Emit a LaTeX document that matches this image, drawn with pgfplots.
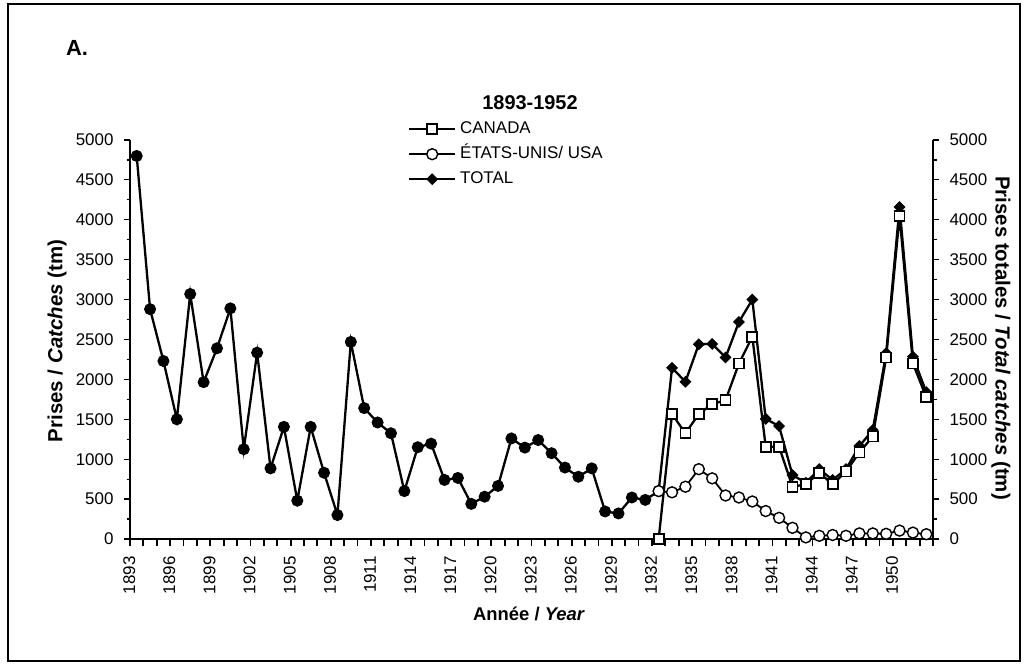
\documentclass[border=0pt]{standalone}
\usepackage{pgfplots}
\pgfplotsset{compat=1.18}
\usepackage{pgfplotstable}
\usepackage{fontspec}
\setmainfont{Liberation Sans}

\pgfplotstableread{
year total
1893 4800
1894 2880
1895 2230
1896 1500
1897 3070
1898 1965
1899 2390
1900 2890
1901 1125
1902 2335
1903 885
1904 1405
1905 480
1906 1405
1907 830
1908 300
1909 2470
1910 1640
1911 1460
1912 1325
1913 600
1914 1150
1915 1195
1916 740
1917 765
1918 440
1919 530
1920 665
1921 1260
1922 1145
1923 1240
1924 1075
1925 895
1926 780
1927 885
1928 345
1929 320
1930 520
1931 490
1932 600
}\totalearly

\pgfplotstableread{
year total canada usa
1932 600 0 600
1933 2145 1565 585
1934 1970 1325 655
1935 2440 1565 875
1936 2445 1690 760
1937 2275 1740 545
1938 2720 2200 520
1939 3000 2535 470
1940 1505 1155 350
1941 1415 1155 265
1942 800 655 140
1943 705 685 20
1944 875 830 40
1945 740 685 50
1946 875 845 40
1947 1165 1085 70
1948 1365 1285 70
1949 2330 2275 65
1950 4160 4050 105
1951 2285 2200 80
1952 1840 1775 60
}\latedata

\pgfplotstableread{
x y
1892.5 -44
1893.5 -44
1894.5 -44
1895.5 -44
1896.5 -44
1897.5 -44
1898.5 -44
1899.5 -44
1900.5 -44
1901.5 -44
1902.5 -44
1903.5 -44
1904.5 -44
1905.5 -44
1906.5 -44
1907.5 -44
1908.5 -44
1909.5 -44
1910.5 -44
1911.5 -44
1912.5 -44
1913.5 -44
1914.5 -44
1915.5 -44
1916.5 -44
1917.5 -44
1918.5 -44
1919.5 -44
1920.5 -44
1921.5 -44
1922.5 -44
1923.5 -44
1924.5 -44
1925.5 -44
1926.5 -44
1927.5 -44
1928.5 -44
1929.5 -44
1930.5 -44
1931.5 -44
1932.5 -44
1933.5 -44
1934.5 -44
1935.5 -44
1936.5 -44
1937.5 -44
1938.5 -44
1939.5 -44
1940.5 -44
1941.5 -44
1942.5 -44
1943.5 -44
1944.5 -44
1945.5 -44
1946.5 -44
1947.5 -44
1948.5 -44
1949.5 -44
1950.5 -44
1951.5 -44
1952.5 -44
}\boundaryticks

\begin{document}
\begin{tikzpicture}[x=1bp,y=1bp]
\useasboundingbox (0,0) rectangle (1026,665);
\draw[line width=1.8bp] (8,4) rectangle (1020,661);
\node[font=\fontsize{22}{24}\selectfont\bfseries] at (77,617) {A.};
\node[font=\fontsize{20}{22}\selectfont\bfseries] at (530,562) {1893-1952};
\node[font=\fontsize{18.5}{20}\selectfont\bfseries] at (529,51) {Année / \textit{Year}};
\node[font=\fontsize{20.5}{22}\selectfont\bfseries, rotate=90] at (57,324) {Prises / \textit{Catches} (tm)};
\node[font=\fontsize{20.5}{22}\selectfont\bfseries, rotate=-90] at (1001,327) {Prises totales / \textit{Total catches} (tm)};

\pgfplotsset{
  common/.style={
    at={(130bp,126bp)}, anchor=south west, scale only axis,
    width=803bp, height=399bp,
    xmin=1892.5, xmax=1952.5, ymin=0, ymax=5000,
    ytick={0,500,...,5000},
    minor ytick={250,750,...,4750},
    tick align=outside,
    major tick length=6bp, minor tick length=3.5bp,
    tick style={line width=1.2bp, black},
    axis line style={line width=1.6bp},
    tick label style={font=\fontsize{17}{20}\selectfont},
    /pgf/number format/1000 sep={},
    /pgf/number format/assume math mode=true,
  }
}

% main axis: data, left y axis, year labels
\begin{axis}[common,
  clip=false,
  axis x line*=bottom, axis y line*=left,
  xtick={1893,1896,...,1950},
  xticklabels={1893,1896,1899,1902,1905,1908,1911,1914,1917,1920,1923,1926,1929,1932,1935,1938,1941,1944,1947,1950},
  xtick style={draw=none},
  xticklabel shift=8bp,
  xticklabel style={xshift=-7.5bp, rotate=90, anchor=east},
  yticklabel style={xshift=-7bp},
  legend style={draw=none, fill=none, at={(0.3462,1.0526)}, anchor=north west,
     inner sep=0pt, column sep=2bp, row sep=5bp,
     font=\fontsize{17}{20}\selectfont,
     nodes={text height=12bp, text depth=4bp, inner sep=2bp}},
  legend cell align=left,
  legend image code/.code={
    \draw[mark repeat=2,mark phase=2,#1] plot coordinates {(0bp,0bp) (23bp,0bp) (46bp,0bp)};
  },
]
\addlegendimage{black, line width=2bp, mark=square*, mark size=5bp, mark options={fill=white, line width=1.8bp}}
\addlegendentry{CANADA}
\addlegendimage{black, line width=2bp, mark=*, mark size=5.5bp, mark options={fill=white, line width=1.4bp}}
\addlegendentry{ÉTATS-UNIS/ USA}
\addlegendimage{black, line width=2bp, mark=square*, mark size=3.7bp, mark options={rotate=45, fill=black, line width=1bp}}
\addlegendentry{TOTAL}

% category boundary tick marks just below the x axis
\addplot[forget plot, only marks, black, mark=|, mark size=3.6bp, mark options={line width=1.8bp}] table[x=x, y=y] {\boundaryticks};

\addplot[forget plot, black, line width=2.3bp, mark=square*, mark size=3.7bp, mark options={rotate=45, fill=black, line width=1bp}] table[x=year, y=total] {\latedata};
\addplot[forget plot, black, line width=2.3bp, mark=*, mark size=5.5bp, mark options={fill=black, line width=1bp}] table[x=year, y=total] {\totalearly};
\addplot[forget plot, black, line width=2.3bp, mark=square*, mark size=5bp, mark options={fill=white, line width=1.8bp}] table[x=year, y=canada] {\latedata};
\addplot[forget plot, black, line width=1.8bp, mark=*, mark size=5.5bp, mark options={fill=white, line width=1.4bp}] table[x=year, y=usa] {\latedata};
\end{axis}

% right y axis
\begin{axis}[common,
  axis x line=none, axis y line*=right,
  yticklabel style={xshift=7bp},
]
\end{axis}
\end{tikzpicture}
\end{document}
